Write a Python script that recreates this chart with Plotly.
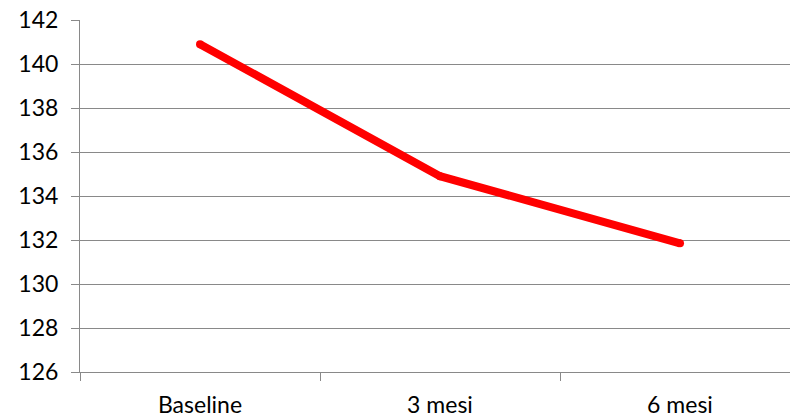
import plotly.graph_objects as go

categories = ["Baseline", "3 mesi", "6 mesi"]
values = [140.9, 134.9, 131.85]
y_ticks = [126, 128, 130, 132, 134, 136, 138, 140, 142]

fig = go.Figure()
fig.add_trace(go.Scatter(
    x=categories, y=values, mode="lines+markers",
    line=dict(color="#FF0000", width=8),
    marker=dict(color="#FF0000", size=8),
    hoverinfo="skip", showlegend=False,
))

grid = "#898989"
fig.update_layout(
    width=790, height=418,
    margin=dict(l=80, r=0, t=20, b=46),
    paper_bgcolor="white", plot_bgcolor="white",
    font=dict(family="Lato, 'Open Sans', sans-serif", size=23, color="#000000"),
    xaxis=dict(
        type="category", range=[-0.5, 2.4583], automargin=False,
        tickson="boundaries", ticks="outside", ticklen=8, tickcolor=grid, tickwidth=1,
        showline=True, linecolor=grid, linewidth=1,
        showgrid=False, zeroline=False, ticklabelstandoff=12,
    ),
    yaxis=dict(
        range=[126, 142], tickvals=y_ticks, ticktext=[str(v) for v in y_ticks],
        automargin=False,
        ticks="outside", ticklen=8, tickcolor=grid, tickwidth=1,
        showline=True, linecolor=grid, linewidth=1,
        showgrid=True, gridcolor=grid, gridwidth=1, zeroline=False,
        ticklabelstandoff=8,
    ),
)
fig.write_html(
    "out.html",
    config={"displayModeBar": False},
    post_script="document.body.style.margin='0';document.body.style.overflow='hidden';",
)
